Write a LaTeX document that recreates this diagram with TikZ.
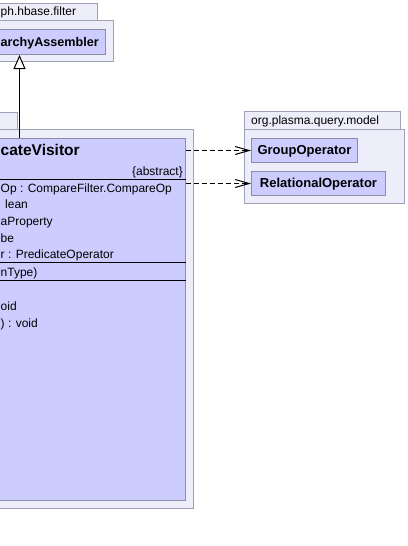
\documentclass[tikz,border=0pt]{standalone}
\usepackage{fontspec}
\setmainfont{Liberation Sans}
\usetikzlibrary{arrows.meta}

\definecolor{pkgfill}{RGB}{238,238,250}
\definecolor{pkgline}{RGB}{160,160,184}
\definecolor{clsfill}{RGB}{204,204,255}
\definecolor{clsline}{RGB}{140,140,168}

\begin{document}
\begin{tikzpicture}[
    x=1pt, y=-1pt,
    pkg/.style={draw=pkgline, fill=pkgfill, line width=1pt,
        anchor=north west, inner sep=0pt},
    cls/.style={draw=clsline, fill=clsfill, line width=1pt,
        anchor=north west, inner sep=0pt},
    txt/.style={inner sep=0pt, anchor=west, text height=9pt, text depth=3pt,
        font=\fontsize{12}{14}\selectfont},
    clsname/.style={txt, font=\fontsize{13}{15}\selectfont\bfseries},
    sep/.style={line width=1pt, black},
    inherit/.style={line width=1pt, -{Triangle[open, length=14pt, width=12pt, fill=white]}},
    dep/.style={line width=1pt, dash pattern=on 5pt off 3pt,
        -{Straight Barb[length=14pt, width=8pt, line cap=butt]}}
]
    \useasboundingbox (0,0) rectangle (407,546);
    % packages
    \node[pkg, minimum width=247pt, minimum height=17pt] (filtertab) at (-150,3) {};
    \node[pkg, minimum width=263pt, minimum height=41pt] (filterpkg) at (-150,20) {};
    \node[pkg, minimum width=217pt, minimum height=17pt] (visitortab) at (-200,112) {};
    \node[pkg, minimum width=393pt, minimum height=379pt] (visitorpkg) at (-200,129) {};
    \node[pkg, minimum width=156pt, minimum height=18pt] (modeltab) at (244,111) {};
    \node[pkg, minimum width=160pt, minimum height=74pt] (modelpkg) at (244,129) {};
    \node[txt] (filterlbl) at (0.5,12) {ph.hbase.filter};
    \node[txt] (modellbl) at (251,121) {org.plasma.query.model};
    % classes
    \node[cls, minimum width=172pt, minimum height=25pt] (assembler) at (-67,29) {};
    \node[clsname, font=\fontsize{12.6}{15}\selectfont\bfseries] (assemblername) at (0.5,43) {archyAssembler};
    \node[cls, minimum width=332pt, minimum height=362pt] (visitor) at (-147,138) {};
    \node[cls, minimum width=106pt, minimum height=24pt] (group) at (251,138) {};
    \node[clsname, anchor=center] (groupname) at ([yshift=-1pt]group.center) {GroupOperator};
    \node[cls, minimum width=134pt, minimum height=24pt] (relational) at (251,171) {};
    \node[clsname, anchor=center] (relationalname) at ([yshift=-1pt]relational.center) {RelationalOperator};
    % visitor compartments
    \node[txt, font=\fontsize{15.5}{17}\selectfont\bfseries] (visitorname) at (0.5,152) {cateVisitor};
    \node[txt, anchor=east] (abstract) at (183,172) {\{abstract\}};
    \draw[sep] (visitor.west |- 0,179) -- (visitor.east |- 0,179);
    \node[txt] (attr1) at (0.5,189) {Op : CompareFilter.CompareOp};
    \node[txt] (attr2) at (5,205) {lean};
    \node[txt] (attr3) at (0.5,222) {aProperty};
    \node[txt] (attr4) at (0.5,239) {be};
    \node[txt] (attr5) at (0.5,255) {r : PredicateOperator};
    \draw[sep] (visitor.west |- 0,262) -- (visitor.east |- 0,262);
    \node[txt] (ctor1) at (0.5,273) {nType)};
    \draw[sep] (visitor.west |- 0,280) -- (visitor.east |- 0,280);
    \node[txt] (op1) at (0.5,307) {oid};
    \node[txt] (op2) at (0.5,324) {) : void};
    % connectors
    \draw[inherit] (visitor.north) -- (assembler.south);
    \draw[dep] (visitor.east |- group.west) -- (group.west);
    \draw[dep] (visitor.east |- relational.west) -- (relational.west);
\end{tikzpicture}
\end{document}
